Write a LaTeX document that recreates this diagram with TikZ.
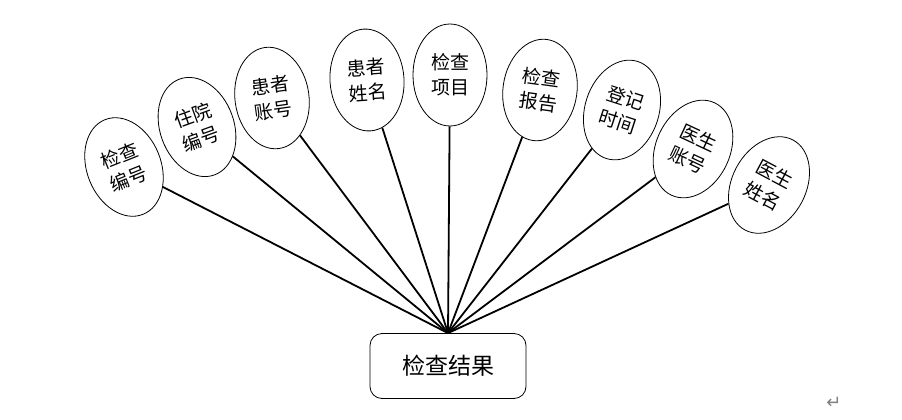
\documentclass[tikz,border=0pt]{standalone}
\usepackage{fontspec}
\setmainfont{Noto Sans CJK SC}
\newfontfamily\symfont{DejaVu Sans}
\usetikzlibrary{positioning, shapes.geometric}
\definecolor{lineBlack}{HTML}{000000}
\definecolor{markGray}{HTML}{808080}

\begin{document}
\begin{tikzpicture}[
  x=1pt, y=-1pt,
  attr/.style={ellipse, draw=lineBlack, line width=0.8pt, minimum width=74pt,
               minimum height=102pt, inner sep=0pt, align=center,
               font=\fontsize{19}{25}\selectfont},
  entity/.style={rectangle, rounded corners=12pt, draw=lineBlack, line width=0.8pt,
                 minimum width=156pt, minimum height=65pt, inner sep=0pt,
                 font=\fontsize{23}{26}\selectfont},
  link/.style={draw=lineBlack, line width=1.8pt},
]
  \useasboundingbox (0,0) rectangle (902,420);

  \node[entity] at (448,366) (res) {检查结果};

  % attributes, left to right
  \node[attr, rotate=22]  at (124,167) (a1) {检查\\编号};
  \node[attr, rotate=20]  at (197,127) (a2) {住院\\编号};
  \node[attr, rotate=8]   at (272,98)  (a3) {患者\\账号};
  \node[attr, rotate=4]   at (367,80)  (a4) {患者\\姓名};
  \node[attr, rotate=0]   at (450,75)  (a5) {检查\\项目};
  \node[attr, rotate=-8]  at (540,90)  (a6) {检查\\报告};
  \node[attr, rotate=-18] at (622,110) (a7) {登记\\时间};
  \node[attr, rotate=-25] at (693,149) (a8) {医生\\账号};
  \node[attr, rotate=-28] at (769,185) (a9) {医生\\姓名};

  \coordinate (hub) at (res.north);
  \foreach \i in {1,...,9}
    \draw[link] (hub) -- (a\i);

  \node[text=markGray, font=\symfont\fontsize{18}{18}\selectfont] at (834,403) (ret) {↵};
\end{tikzpicture}
\end{document}
